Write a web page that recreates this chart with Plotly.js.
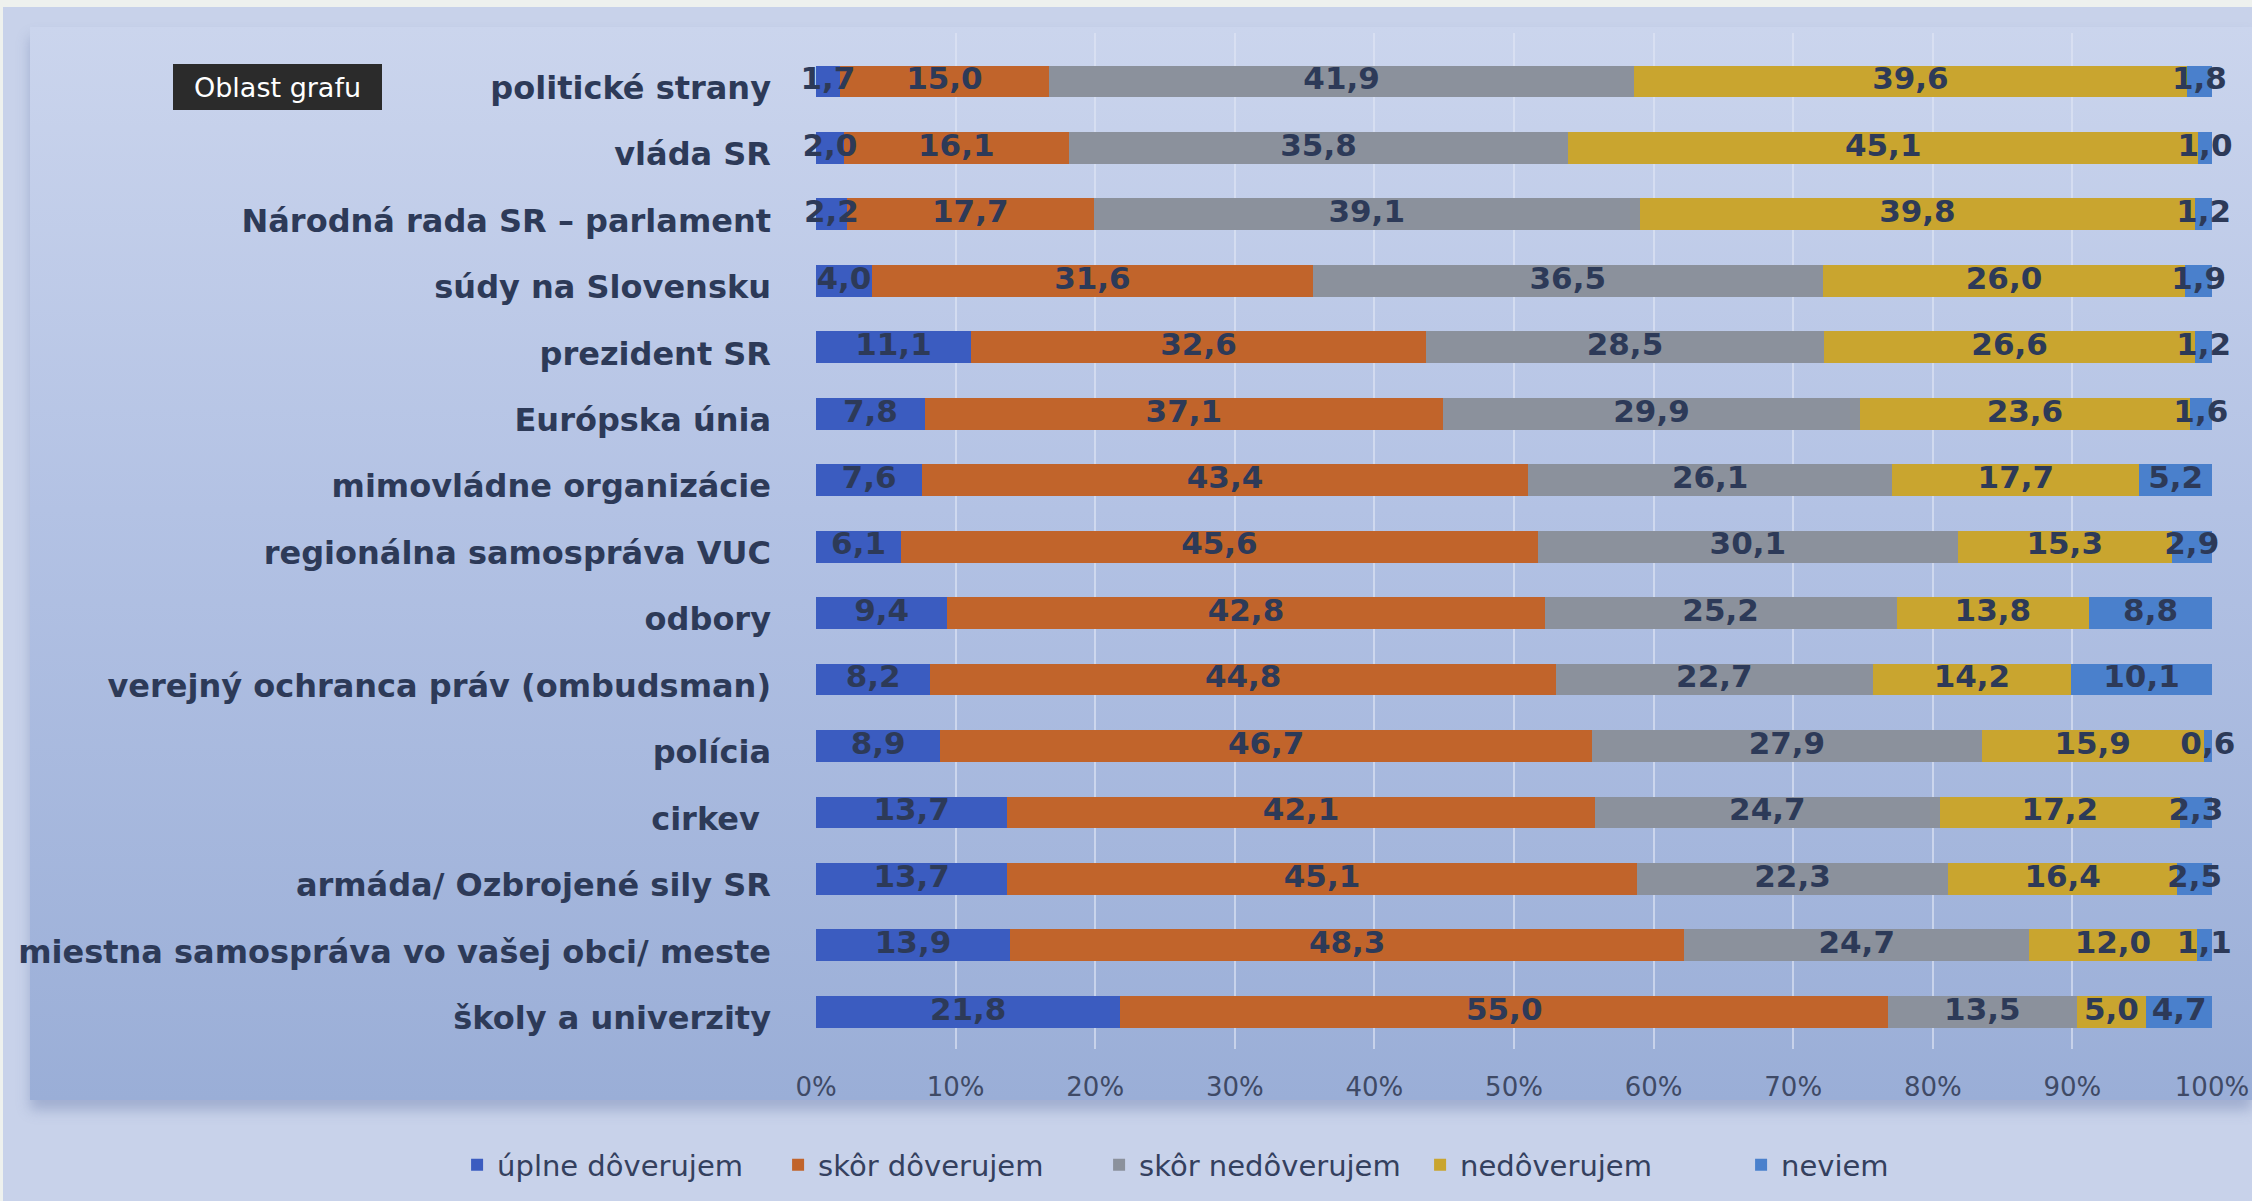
<!DOCTYPE html>
<html>
<head>
<meta charset="utf-8">
<script src="https://cdn.plot.ly/plotly-3.0.1.min.js"></script>
<style>
  html, body { margin:0; padding:0; width:2252px; height:1201px; overflow:hidden; background:#eef1ee; }
  #outer { position:absolute; left:3px; top:7px; width:2249px; height:1194px; background:#c8d2ea; }
  #panel { position:absolute; left:30px; top:27px; width:2222px; height:1073px;
           background:linear-gradient(to bottom, #cbd5ed 0%, #b3c2e4 45%, #9aaed7 100%);
           box-shadow:0 10px 12px rgba(90,110,160,0.35); }
  #chart { position:absolute; left:0; top:0; width:2252px; height:1201px; }
</style>
</head>
<body>
<div id="outer"></div>
<div id="panel"></div>
<div id="chart"></div>
<script>
// Categories (top to bottom)
const categories = [
  "politické strany",
  "vláda SR",
  "Národná rada SR – parlament",
  "súdy na Slovensku",
  "prezident SR",
  "Európska únia",
  "mimovládne organizácie",
  "regionálna samospráva VUC",
  "odbory",
  "verejný ochranca práv (ombudsman)",
  "polícia",
  "cirkev ",
  "armáda/ Ozbrojené sily SR",
  "miestna samospráva vo vašej obci/ meste",
  "školy a univerzity"
];

const seriesNames = ["úplne dôverujem", "skôr dôverujem", "skôr nedôverujem", "nedôverujem", "neviem"];

const uplneDoverujem   = [1.7, 2.0, 2.2, 4.0, 11.1, 7.8, 7.6, 6.1, 9.4, 8.2, 8.9, 13.7, 13.7, 13.9, 21.8];
const skorDoverujem    = [15.0, 16.1, 17.7, 31.6, 32.6, 37.1, 43.4, 45.6, 42.8, 44.8, 46.7, 42.1, 45.1, 48.3, 55.0];
const skorNedoverujem  = [41.9, 35.8, 39.1, 36.5, 28.5, 29.9, 26.1, 30.1, 25.2, 22.7, 27.9, 24.7, 22.3, 24.7, 13.5];
const nedoverujem      = [39.6, 45.1, 39.8, 26.0, 26.6, 23.6, 17.7, 15.3, 13.8, 14.2, 15.9, 17.2, 16.4, 12.0, 5.0];
const neviem           = [1.8, 1.0, 1.2, 1.9, 1.2, 1.6, 5.2, 2.9, 8.8, 10.1, 0.6, 2.3, 2.5, 1.1, 4.7];

const xTickValues = [0, 10, 20, 30, 40, 50, 60, 70, 80, 90, 100];
const xTickText = xTickValues.map(v => v + "%");

const seriesValues = [uplneDoverujem, skorDoverujem, skorNedoverujem, nedoverujem, neviem];
const seriesColors = ["#3b5cc0", "#c1642b", "#8b919c", "#c9a52f", "#4a80cc"];

const barTraces = seriesValues.map((vals, i) => ({
  type: "bar",
  orientation: "h",
  name: seriesNames[i],
  x: vals,
  y: categories,
  marker: {color: seriesColors[i], line: {width: 0}},
  hoverinfo: "x+y+name"
}));

// Data labels: placed at the middle of each stacked segment (data coordinates)
const labelTraces = seriesValues.map((vals, i) => {
  const mids = vals.map((v, j) => {
    let base = 0;
    for (let k = 0; k < i; k++) base += seriesValues[k][j];
    return base + v / 2;
  });
  return {
    type: "scatter",
    mode: "text",
    x: mids,
    y: categories,
    text: vals.map(v => v.toFixed(1).replace(".", ",")),
    textposition: "middle center",
    textfont: {family: "DejaVu Sans", size: 31, color: "#2d3a58", weight: "bold"},
    showlegend: false,
    hoverinfo: "skip",
    cliponaxis: false
  };
});

const layout = {
  width: 2252,
  height: 1201,
  paper_bgcolor: "rgba(0,0,0,0)",
  plot_bgcolor: "rgba(0,0,0,0)",
  barmode: "stack",
  bargap: 0.52,
  margin: {l: 816, r: 40, t: 33, b: 151},
  showlegend: true,
  xaxis: {
    range: [0, 100],
    tickmode: "array",
    tickvals: xTickValues,
    ticktext: xTickText,
    ticklabeloverflow: "allow",
    showgrid: true,
    gridcolor: "rgba(222,229,245,0.65)",
    gridwidth: 2,
    zeroline: false,
    showline: false,
    ticks: "",
    ticklabelstandoff: 20,
    tickfont: {family: "DejaVu Sans", size: 26, color: "#3f4a66"},
    fixedrange: true
  },
  yaxis: {
    type: "category",
    categoryorder: "array",
    categoryarray: categories,
    range: [14.56, -0.73],
    showgrid: false,
    zeroline: false,
    showline: false,
    ticks: "",
    ticklabelstandoff: 44,
    ticklabelshift: -6,
    tickfont: {family: "DejaVu Sans", size: 32, color: "#2d3a58", weight: "bold"},
    fixedrange: true
  },
  legend: {
    orientation: "h",
    xref: "paper",
    yref: "paper",
    x: -0.2571,
    xanchor: "left",
    y: -0.113,
    yanchor: "middle",
    traceorder: "normal",
    entrywidth: 276,
    entrywidthmode: "pixels",
    bgcolor: "rgba(0,0,0,0)",
    font: {family: "DejaVu Sans", size: 29, color: "#34405e"}
  },
  annotations: [{
    text: "Oblast grafu",
    xref: "paper",
    yref: "paper",
    x: -0.3857,
    y: 0.947,
    xanchor: "center",
    yanchor: "middle",
    showarrow: false,
    bgcolor: "#2b2b2b",
    bordercolor: "#2b2b2b",
    width: 205,
    height: 42,
    font: {family: "DejaVu Sans", size: 27, color: "#ffffff"}
  }]
};

Plotly.newPlot("chart", barTraces.concat(labelTraces), layout, {displayModeBar: false, staticPlot: true});
</script>
</body>
</html>
